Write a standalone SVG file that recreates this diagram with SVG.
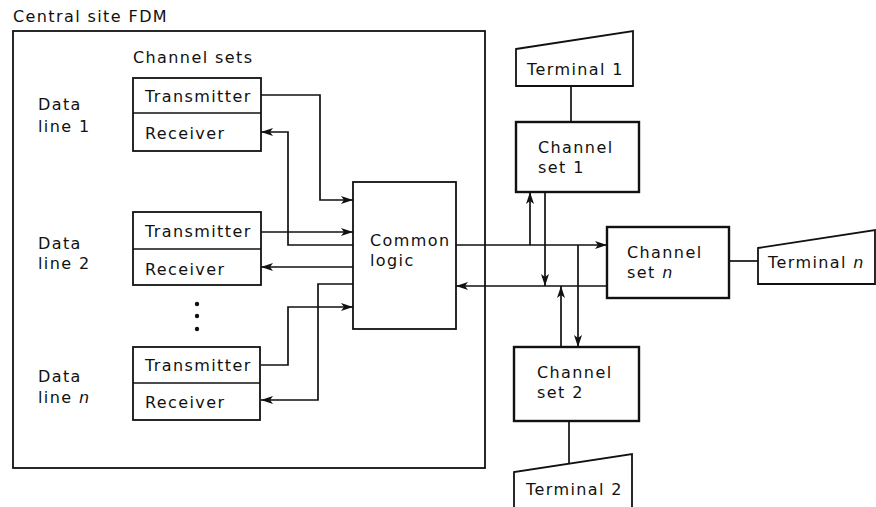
<svg xmlns="http://www.w3.org/2000/svg" width="876" height="507" viewBox="0 0 876 507">
<defs>
<marker id="arr" viewBox="0 0 12 8" refX="12" refY="4" markerWidth="12" markerHeight="8" markerUnits="userSpaceOnUse" orient="auto">
<path d="M0,0 L12,4 L0,8 L3,4 Z" fill="#111"/>
</marker>
<style>
text{font-family:"DejaVu Sans","Liberation Sans",sans-serif;font-size:16px;letter-spacing:1.4px;fill:#111}
.box{fill:#fff;stroke:#111;stroke-width:1.8}
.thick{fill:#fff;stroke:#111;stroke-width:2.4}
.ln{fill:none;stroke:#111;stroke-width:1.7}
.ar{fill:none;stroke:#111;stroke-width:1.7;marker-end:url(#arr)}
.it{font-style:italic}
</style>
</defs>
<rect width="876" height="507" fill="#fff"/>
<text x="13" y="22">Central site FDM</text>
<g id="central-site">
<rect class="box" x="13" y="31" width="472" height="437"/>
<text x="133" y="63">Channel sets</text>
</g>
<g id="data-line-1">
<text x="38" y="110">Data</text>
<text x="38" y="132">line 1</text>
</g>
<g id="channel-set-c1">
<rect class="box" x="133" y="78" width="128" height="73"/>
<line class="ln" x1="133" y1="113" x2="261" y2="113"/>
<text x="145" y="102">Transmitter</text>
<text x="145" y="139">Receiver</text>
</g>
<g id="data-line-2">
<text x="38" y="249">Data</text>
<text x="38" y="269">line 2</text>
</g>
<g id="channel-set-c2">
<rect class="box" x="133" y="212" width="128" height="73"/>
<line class="ln" x1="133" y1="249" x2="261" y2="249"/>
<text x="145" y="237">Transmitter</text>
<text x="145" y="275">Receiver</text>
</g>
<g id="dots">
<circle cx="197" cy="304" r="2.2" fill="#111"/>
<circle cx="197" cy="316" r="2.2" fill="#111"/>
<circle cx="197" cy="329" r="2.2" fill="#111"/>
</g>
<g id="data-line-n">
<text x="38" y="382">Data</text>
<text x="38" y="403">line <tspan class="it">n</tspan></text>
</g>
<g id="channel-set-cn">
<rect class="box" x="133" y="347" width="127" height="73"/>
<line class="ln" x1="133" y1="383" x2="260" y2="383"/>
<text x="145" y="371">Transmitter</text>
<text x="145" y="408">Receiver</text>
</g>
<g id="common-logic">
<rect class="box" x="353" y="182" width="103" height="147"/>
<text x="370" y="246">Common</text>
<text x="370" y="266">logic</text>
</g>
<g id="terminal-1">
<polygon class="box" points="516,49 633,31 633,86 516,86"/>
<text x="527" y="75">Terminal 1</text>
</g>
<g id="channel-set-1">
<rect class="thick" x="516" y="122" width="123" height="70"/>
<text x="538" y="153">Channel</text>
<text x="538" y="173">set 1</text>
</g>
<g id="channel-set-n">
<rect class="thick" x="607" y="227" width="122" height="71"/>
<text x="627" y="258">Channel</text>
<text x="627" y="278">set <tspan class="it">n</tspan></text>
</g>
<g id="terminal-n">
<polygon class="box" points="758,248 875,230 875,284 758,284"/>
<text x="768" y="268">Terminal <tspan class="it">n</tspan></text>
</g>
<g id="channel-set-2">
<rect class="thick" x="514" y="347" width="125" height="74"/>
<text x="537" y="378">Channel</text>
<text x="537" y="398">set 2</text>
</g>
<g id="terminal-2">
<path class="box" d="M514,508 L514,472 L632,454 L632,508"/>
<text x="526" y="495">Terminal 2</text>
</g>
<g id="connectors">
<path class="ar" d="M261,95 H320 V200 H353"/>
<path class="ar" d="M353,245 H288 V132 H261"/>
<path class="ar" d="M261,232 H353"/>
<path class="ar" d="M353,267 H261"/>
<path class="ar" d="M353,284 H318 V400 H261"/>
<path class="ar" d="M261,365 H288 V307 H353"/>
<path class="ar" d="M456,245 H607"/>
<path class="ar" d="M607,286 H456"/>
<path class="ar" d="M530,245 V192"/>
<path class="ar" d="M545,192 V286"/>
<path class="ar" d="M561,347 V286"/>
<path class="ar" d="M578,245 V347"/>
<path class="ln" d="M571,86 V122"/>
<path class="ln" d="M569,421 V464"/>
<path class="ln" d="M729,261 H758"/>
</g>
</svg>
